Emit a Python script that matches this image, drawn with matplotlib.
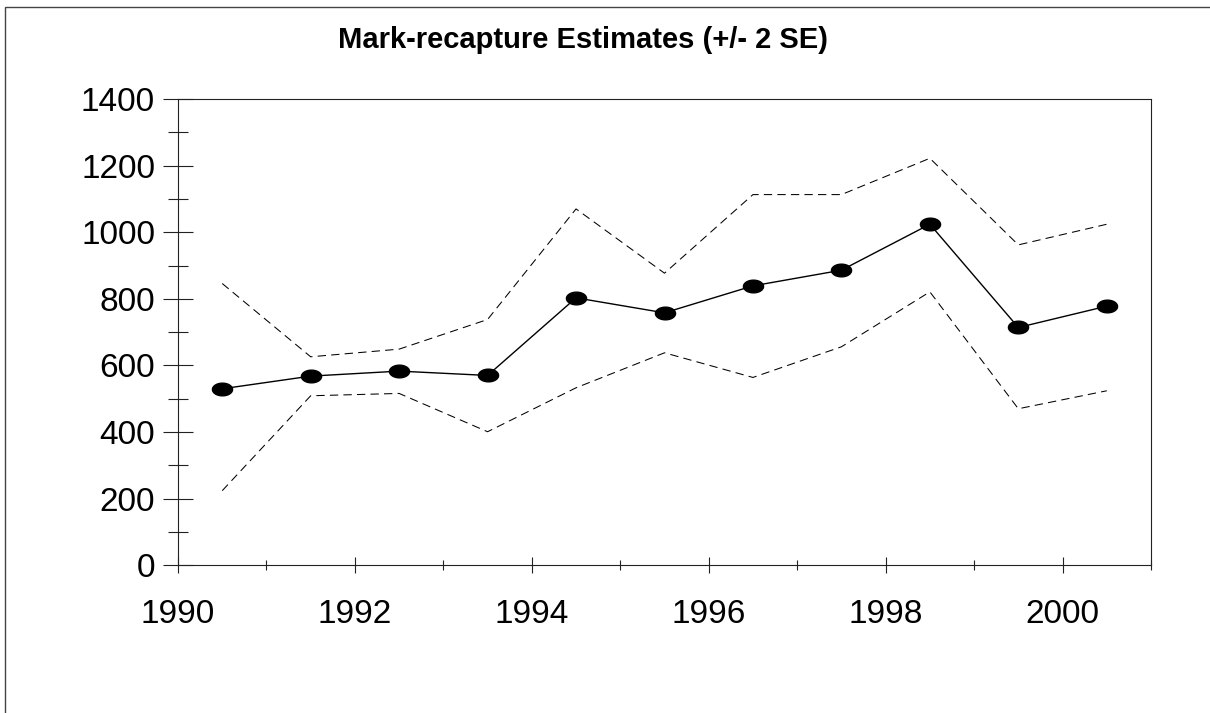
import matplotlib
matplotlib.use("Agg")
import matplotlib.pyplot as plt
import numpy as np
from matplotlib.path import Path
from matplotlib.patches import Rectangle
from matplotlib.ticker import MultipleLocator

plt.rcParams['font.family'] = ['Liberation Sans', 'DejaVu Sans']

# Data
years = [1990.5, 1991.5, 1992.5, 1993.5, 1994.5, 1995.5, 1996.5, 1997.5, 1998.5, 1999.5, 2000.5]
estimate = [530, 568, 583, 570, 803, 758, 839, 886, 1024, 714, 778]
upper = [846, 626, 649, 738, 1070, 877, 1113, 1113, 1222, 962, 1024]
lower = [224, 509, 516, 401, 533, 638, 564, 656, 821, 470, 524]
title = "Mark-recapture Estimates (+/- 2 SE)"

fig = plt.figure(figsize=(12.10, 7.13), dpi=100)
ax = fig.add_axes([178/1210, 1-565.3/713, (1151-178)/1210, (565.3-99)/713])

# elliptical marker
t = np.linspace(0, 2*np.pi, 60)
ell = Path(np.column_stack([np.cos(t), 0.63*np.sin(t)]), closed=True)

ax.plot(years, upper, color='black', lw=0.75, linestyle=(0, (8, 5)))
ax.plot(years, lower, color='black', lw=0.75, linestyle=(0, (8, 5)))
ax.plot(years, estimate, color='black', lw=1.0, marker=ell, markersize=14.5,
        markerfacecolor='black', markeredgecolor='black')

ax.set_xlim(1990, 2001)
ax.set_ylim(0, 1400)
ax.xaxis.set_major_locator(MultipleLocator(2))
ax.xaxis.set_minor_locator(MultipleLocator(1))
ax.yaxis.set_major_locator(MultipleLocator(200))
ax.yaxis.set_minor_locator(MultipleLocator(100))

ax.tick_params(axis='y', which='major', direction='inout', length=21, width=0.8, labelsize=24, pad=6)
ax.tick_params(axis='y', which='minor', direction='inout', length=14, width=0.8)
ax.tick_params(axis='x', which='major', direction='inout', length=11, width=0.8, labelsize=24, pad=19)
ax.tick_params(axis='x', which='minor', direction='inout', length=7.5, width=0.8)
for s in ax.spines.values():
    s.set_linewidth(0.8)
    s.set_color('#222222')
ax.tick_params(which='both', color='#222222')

fig.text(582.5/1210, 1-40/713, title, ha='center', va='center', fontsize=21, fontweight='bold')

fig.add_artist(Rectangle((5.3/1210, -0.2), 2, 1.2-7.3/713, transform=fig.transFigure,
                         fill=False, lw=1.0, ec='#444444'))

fig.savefig('out.png', dpi=100)
